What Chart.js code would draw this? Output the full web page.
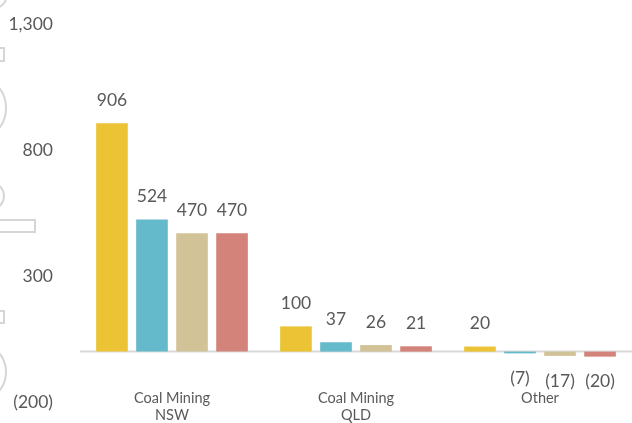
<!DOCTYPE html>
<html>
<head>
<meta charset="utf-8">
<style>
  body { margin: 0; background: #fff; }
  canvas { display: block; }
</style>
<script src="https://cdn.jsdelivr.net/npm/chart.js@4.4.1/dist/chart.umd.min.js"></script>
</head>
<body>
<canvas id="mining-chart" width="632" height="423"></canvas>
<script>
//Chart data
const categories = [['Coal Mining', 'NSW'], ['Coal Mining', 'QLD'], ['Other']];
const seriesNames = ['Series 1', 'Series 2', 'Series 3', 'Series 4'];
const series1 = [906, 100, 20];
const series2 = [524, 37, -7];
const series3 = [470, 26, -17];
const series4 = [470, 21, -20];
const yTicks = [-200, 300, 800, 1300];

const colors = ['#EBC334', '#64B9CB', '#D1C297', '#D4837A'];
const textColor = '#595959';
const fontFamily = 'Lato, "Open Sans", sans-serif';

function fmt(v) {
  const s = Math.abs(v).toLocaleString('en-US');
  return v < 0 ? '(' + s + ')' : s;
}

//Faint outline shapes along the left edge
const edgeShapes = {
  id: 'edgeShapes',
  beforeDraw(chart) {
    const c = chart.ctx;
    c.save();
    c.strokeStyle = '#d6d6d6';
    c.lineWidth = 2;
    c.beginPath(); c.ellipse(-22, -2, 28, 14, 0, 0, Math.PI * 2); c.stroke();
    c.strokeRect(-10, 48, 14, 13);
    c.beginPath(); c.ellipse(-20, 108, 26, 30, 0, 0, Math.PI * 2); c.stroke();
    c.beginPath(); c.ellipse(-22, 196, 26, 18, 0, 0, Math.PI * 2); c.stroke();
    c.strokeRect(-10, 220, 45, 12);
    c.strokeRect(-10, 311, 14, 12);
    c.beginPath(); c.ellipse(-20, 372, 26, 28, 0, 0, Math.PI * 2); c.stroke();
    c.restore();
  }
};

//Zero line, value labels and category labels
const annotate = {
  id: 'annotate',
  beforeDatasetsDraw(chart) {
    const c = chart.ctx;
    const y0 = chart.scales.y.getPixelForValue(0);
    c.save();
    c.strokeStyle = '#d9d9d9';
    c.lineWidth = 2;
    c.beginPath();
    c.moveTo(chart.chartArea.left, y0);
    c.lineTo(chart.width, y0);
    c.stroke();
    c.restore();
  },
  afterDatasetsDraw(chart) {
    const c = chart.ctx;
    const xs = chart.scales.x;
    c.save();
    c.fillStyle = textColor;
    c.textAlign = 'center';
    c.textBaseline = 'middle';
    c.font = '17.5px ' + fontFamily;
    chart.data.datasets.forEach((ds, di) => {
      chart.getDatasetMeta(di).data.forEach((bar, i) => {
        const v = ds.data[i];
        const y = v >= 0 ? bar.y - 23 : bar.y + 25;
        c.fillText(fmt(v), bar.x, y);
      });
    });
    c.font = '14.5px ' + fontFamily;
    categories.forEach((lines, i) => {
      const x = xs.getPixelForValue(i);
      lines.forEach((line, j) => c.fillText(line, x, 398 + j * 17));
    });
    c.restore();
  }
};

const ctx = document.getElementById('mining-chart').getContext('2d');
const seriesData = [series1, series2, series3, series4];

const miningChart = new Chart(ctx, {
  type: 'bar',
  data: {
    labels: categories,
    datasets: seriesData.map((d, i) => ({
      label: seriesNames[i],
      data: d,
      backgroundColor: colors[i],
      categoryPercentage: 0.87,
      barPercentage: 0.79
    }))
  },
  options: {
    responsive: false,
    animation: false,
    layout: { padding: { top: 24, bottom: 21, left: 0, right: 0 } },
    scales: {
      x: { display: false },
      y: {
        min: -200,
        max: 1300,
        border: { display: false },
        grid: { display: false, drawTicks: false },
        afterFit(scale) {
          scale.width = 80;
          scale.paddingTop = 0;
          scale.paddingBottom = 0;
        },
        afterBuildTicks(scale) { scale.ticks = yTicks.map(v => ({ value: v })); },
        ticks: {
          padding: 27,
          color: textColor,
          font: { family: fontFamily, size: 17.5 },
          callback: v => fmt(v)
        }
      }
    },
    plugins: {
      legend: { display: false },
      tooltip: { enabled: false }
    }
  },
  plugins: [edgeShapes, annotate]
});
</script>
</body>
</html>
